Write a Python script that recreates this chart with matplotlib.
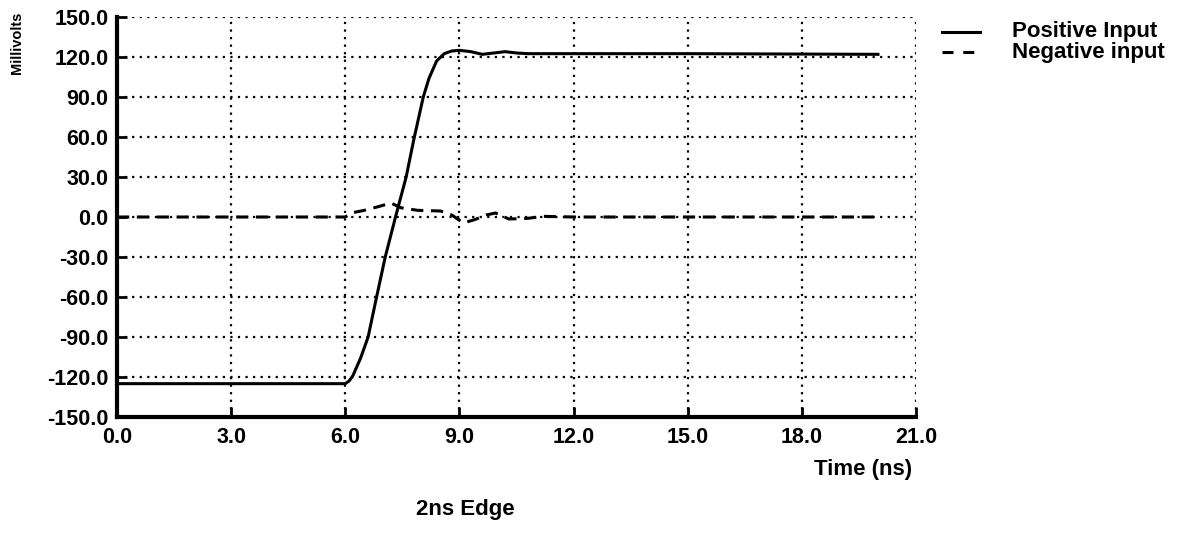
import matplotlib
matplotlib.use("Agg")
import matplotlib.pyplot as plt
from matplotlib.lines import Line2D

plt.rcParams['font.family'] = ['Liberation Sans', 'DejaVu Sans']

# Positive input (mV) vs time (ns)
pos_t = [0.0, 6.0, 6.1, 6.2, 6.4, 6.6, 6.8, 7.05, 7.32, 7.6, 7.8, 8.05, 8.2, 8.4, 8.6, 8.8,
         9.0, 9.3, 9.6, 9.9, 10.2, 10.5, 10.8, 12.0, 15.0, 20.0]
pos_v = [-125.0, -125.0, -123.0, -119.0, -106.0, -90.0, -63.0, -30.0, 0.0, 30.0, 58.0, 90.0,
         104.0, 117.0, 122.5, 124.5, 125.0, 124.0, 122.0, 123.0, 124.0, 123.0, 122.5,
         122.5, 122.5, 122.0]

# Negative input (mV) vs time (ns)
neg_t = [0.0, 6.0, 6.15, 6.5, 6.9, 7.2, 7.45, 7.9, 8.5, 8.8, 9.1, 9.4, 9.7, 9.95, 10.3, 10.8,
         11.2, 12.0, 15.0, 20.0]
neg_v = [0.0, 0.0, 3.0, 5.0, 8.0, 10.5, 7.0, 5.0, 4.5, 1.5, -4.5, -2.0, 1.5, 3.0, -1.5, -1.0,
         0.5, 0.0, 0.0, 0.0]

xticks = [0.0, 3.0, 6.0, 9.0, 12.0, 15.0, 18.0, 21.0]
yticks = [-150.0, -120.0, -90.0, -60.0, -30.0, 0.0, 30.0, 60.0, 90.0, 120.0, 150.0]
series_names = ['Positive Input', 'Negative input']

W, H = 1181, 535
fig = plt.figure(figsize=(W / 100, H / 100), dpi=100)
ax = fig.add_axes([117 / W, 1 - 417 / H, (916 - 117) / W, (417 - 17) / H])

grid_kw = dict(color='black', linewidth=1.6, linestyle=(0, (1, 2.4)), dash_capstyle='butt', zorder=1)
for x in xticks[1:]:
    ax.axvline(x, **grid_kw)
for y in yticks[1:]:
    ax.axhline(y, **grid_kw)

dash = (0, (4, 2.5))
ax.plot(pos_t, pos_v, color='black', linewidth=2.2, solid_joinstyle='round', zorder=3)
ax.plot(neg_t, neg_v, color='black', linewidth=2.2, linestyle=dash, zorder=3)

ax.set_xlim(0, 21)
ax.set_ylim(-150, 150)
ax.set_xticks(xticks)
ax.set_yticks(yticks)
ax.set_xticklabels([f"{v:.1f}" for v in xticks])
ax.set_yticklabels([f"{v:.1f}" for v in yticks])
for s in ['top', 'right']:
    ax.spines[s].set_visible(False)
for s in ['left', 'bottom']:
    ax.spines[s].set_linewidth(3)
ax.tick_params(direction='in', length=7, width=2, labelsize=15.5)
ax.tick_params(axis='x', pad=7)
ax.tick_params(axis='y', pad=6)
for lab in ax.get_xticklabels() + ax.get_yticklabels():
    lab.set_fontweight('bold')

fig.text(17 / W, 1 - 12 / H, 'Millivolts', rotation=90, ha='center', va='top',
         fontsize=10.5, fontweight='bold')
fig.text(912 / W, 1 - 470 / H, 'Time (ns)', ha='right', va='center', fontsize=16, fontweight='bold')
fig.text(465 / W, 1 - 510 / H, '2ns Edge', ha='center', va='center', fontsize=16, fontweight='bold')

# manual legend
leg_y = [32, 52]
styles = ['-', (0, (3.6, 3.2))]
for yy, st, name in zip(leg_y, styles, series_names):
    fig.add_artist(Line2D([942 / W, 980 / W], [1 - yy / H, 1 - yy / H], color='black',
                          linewidth=2.2, linestyle=st, transform=fig.transFigure))
    fig.text(1012 / W, 1 - yy / H, name, ha='left', va='center', fontsize=16, fontweight='bold')

fig.savefig('out.png', dpi=100)
